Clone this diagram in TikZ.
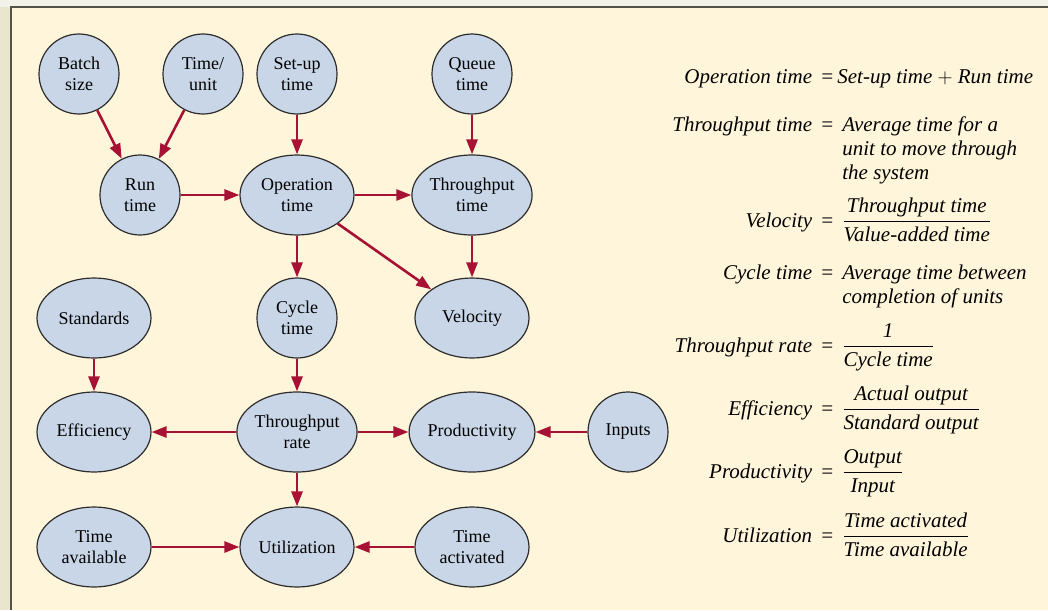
\documentclass[tikz,border=0pt]{standalone}
\usepackage{amsmath}
\usepackage{fontspec}
\setmainfont{Liberation Serif}
\usetikzlibrary{arrows.meta,shapes.geometric}
\definecolor{outerleft}{RGB}{234,230,206}
\definecolor{outertop}{RGB}{243,242,233}
\definecolor{panelfill}{RGB}{255,245,218}
\definecolor{panelline}{RGB}{85,82,75}
\definecolor{bubblefill}{RGB}{200,214,231}
\definecolor{bubbleline}{RGB}{45,45,45}
\definecolor{linkred}{RGB}{167,17,52}
\newcommand{\eqfrac}[2]{$\genfrac{}{}{1.1pt}{0}{\textit{#1}}{\textit{#2}}$}

\begin{document}
\begin{tikzpicture}[x=1pt,y=-1pt,
    bubble/.style={circle,draw=bubbleline,line width=1.2pt,fill=bubblefill,minimum size=80pt,
      inner sep=0pt,align=center,font=\fontsize{18}{21.5}\selectfont},
    oval/.style={bubble,ellipse,minimum width=114pt,minimum height=80pt},
    link/.style={draw=linkred,line width=2.6pt,-{Triangle[length=15pt,width=11pt]}},
    eqn/.style={anchor=base west,inner sep=0pt,font=\fontsize{21}{24}\selectfont\itshape}]
            \useasboundingbox (0,0) rectangle (1048,610);
            \fill[outerleft] (0,0) rectangle (1048,610);
            \fill[outertop] (0,0) rectangle (1048,7);
            \fill[panelfill] (11,7) rectangle (1048,610);
            \draw[panelline,line width=2pt] (11,610) -- (11,7) -- (1048,7);

            \node[bubble] (batch) at (79,74) {Batch\\size};
            \node[bubble] (perunit) at (203,74) {Time/\\unit};
            \node[bubble] (setup) at (297,74) {Set-up\\time};
            \node[bubble] (queue) at (472,74) {Queue\\time};

            \node[bubble] (run) at (140,195) {Run\\time};
            \node[oval] (operation) at (297,195) {Operation\\time};
            \node[oval] (throughtime) at (472,195) {Throughput\\time};

            \node[oval] (standards) at (94,318) {Standards};
            \node[bubble] (cycle) at (297,318) {Cycle\\time};
            \node[oval] (velocity) at (472,318) {Velocity};

            \node[oval] (efficiency) at (94,432) {Efficiency};
            \node[oval] (throughrate) at (297,432) {Throughput\\rate};
            \node[oval] (productivity) at (472,432) {Productivity};
            \node[bubble] (inputs) at (628,432) {Inputs};

            \node[oval] (available) at (94,547) {Time\\available};
            \node[oval] (utilization) at (297,547) {Utilization};
            \node[oval] (activated) at (472,547) {Time\\activated};

            \draw[link] (batch) -- (run);
            \draw[link] (perunit) -- (run);
            \draw[link] (setup) -- (operation);
            \draw[link] (queue) -- (throughtime);
            \draw[link] (run) -- (operation);
            \draw[link] (operation) -- (throughtime);
            \draw[link] (operation) -- (cycle);
            \draw[link] (operation) -- (velocity);
            \draw[link] (throughtime) -- (velocity);
            \draw[link] (standards) -- (efficiency);
            \draw[link] (cycle) -- (throughrate);
            \draw[link] (throughrate) -- (efficiency);
            \draw[link] (throughrate) -- (productivity);
            \draw[link] (inputs) -- (productivity);
            \draw[link] (throughrate) -- (utilization);
            \draw[link] (available) -- (utilization);
            \draw[link] (activated) -- (utilization);

            \node[eqn] (opeq) at (820,83) {\llap{Operation time\hspace{8pt}}=\hspace{3pt}Set-up time $+$ Run time};
            \node[eqn] (tteq) at (820,131) {\llap{Throughput time\hspace{8pt}}=\hspace{8pt}\begin{tabular}[t]{@{}l@{}}Average time for a\\unit to move through\\the system\end{tabular}};
            \node[eqn] (veleq) at (820,227) {\llap{Velocity\hspace{8pt}}=\hspace{8pt}\eqfrac{Throughput time}{Value-added time}};
            \node[eqn] (cteq) at (820,279) {\llap{Cycle time\hspace{8pt}}=\hspace{8pt}\begin{tabular}[t]{@{}l@{}}Average time between\\completion of units\end{tabular}};
            \node[eqn] (treq) at (820,352) {\llap{Throughput rate\hspace{8pt}}=\hspace{8pt}\eqfrac{1}{Cycle time}};
            \node[eqn] (effeq) at (820,415) {\llap{Efficiency\hspace{8pt}}=\hspace{8pt}\eqfrac{Actual output}{Standard output}};
            \node[eqn] (prodeq) at (820,478) {\llap{Productivity\hspace{8pt}}=\hspace{8pt}\eqfrac{Output}{Input}};
            \node[eqn] (utileq) at (820,542) {\llap{Utilization\hspace{8pt}}=\hspace{8pt}\eqfrac{Time activated}{Time available}};

        \end{tikzpicture}
\end{document}
